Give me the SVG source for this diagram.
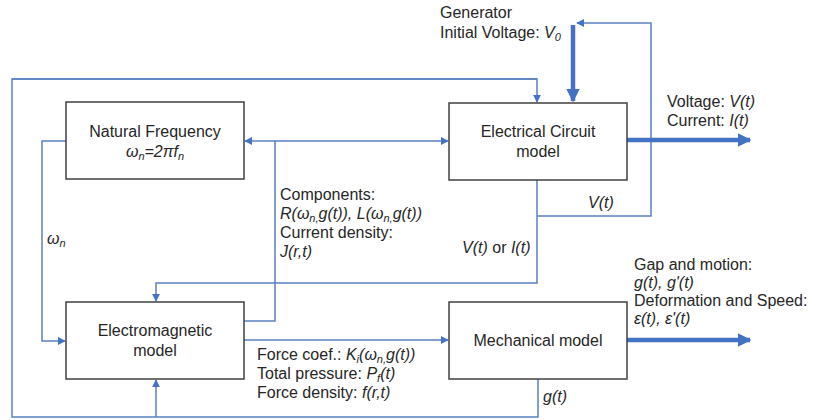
<svg xmlns="http://www.w3.org/2000/svg" width="813" height="420" viewBox="0 0 813 420">
<defs>
<style>
text{font-family:"Liberation Sans",Arial,sans-serif;font-size:16px;fill:#262626}
.c{text-anchor:middle}
.i{font-style:italic}
.s{font-size:11px}
.box{fill:#fff;stroke:#404040;stroke-width:1.5}
.ln{fill:none;stroke:#5B80C2;stroke-width:1.5}
.th{fill:none;stroke:#4472C4;stroke-width:4.5}
</style>
<marker id="a" viewBox="0 0 10 10" refX="9" refY="5" markerWidth="8" markerHeight="8" markerUnits="userSpaceOnUse" orient="auto"><path d="M0,0L10,5L0,10z" fill="#4472C4"/></marker>
<marker id="b" viewBox="0 0 10 10" refX="9" refY="5" markerWidth="3" markerHeight="3" orient="auto"><path d="M0,0L10,5L0,10z" fill="#4472C4"/></marker>
</defs>
<g id="connectors">
<path class="ln" d="M537,79H12V417H538V379" />
<path class="ln" d="M12,79H537V102" marker-end="url(#a)"/>
<path class="ln" d="M156,417V380" marker-end="url(#a)"/>
<path class="ln" d="M66,141H42V341H65" marker-end="url(#a)"/>
<path class="ln" d="M244,321H275V141H448" marker-end="url(#a)"/>
<path class="ln" d="M275,141H245" marker-end="url(#a)"/>
<path class="ln" d="M537,180V283H156V301" marker-end="url(#a)"/>
<path class="ln" d="M537,216H651V23H577" marker-end="url(#a)"/>
<path class="ln" d="M244,340H448" marker-end="url(#a)"/>
<path class="th" d="M573,25V101" marker-end="url(#b)"/>
<path class="th" d="M627,140H750" marker-end="url(#b)"/>
<path class="th" d="M627,340H750" marker-end="url(#b)"/>
</g>
<g id="natural-frequency">
<rect class="box" x="66" y="102" width="178" height="77"/>
<text class="c" x="155" y="137">Natural Frequency</text>
<text class="c i" x="155" y="157">ω<tspan class="s" dy="3">n</tspan><tspan dy="-3">=2π</tspan>f<tspan class="s" dy="3">n</tspan></text>
</g>
<g id="electrical-circuit">
<rect class="box" x="449" y="103" width="178" height="77"/>
<text class="c" x="538" y="137">Electrical Circuit</text>
<text class="c" x="538" y="157">model</text>
</g>
<g id="electromagnetic">
<rect class="box" x="66" y="302" width="178" height="77"/>
<text class="c" x="155" y="336">Electromagnetic</text>
<text class="c" x="155" y="356">model</text>
</g>
<g id="mechanical">
<rect class="box" x="449" y="302" width="178" height="77"/>
<text class="c" x="538" y="346">Mechanical model</text>
</g>
<g id="labels">
<text x="440" y="18">Generator</text>
<text x="440" y="38">Initial Voltage: <tspan class="i">V</tspan><tspan class="i s" dy="3">0</tspan></text>
<text x="667" y="107">Voltage: <tspan class="i">V(t)</tspan></text>
<text x="667" y="126">Current: <tspan class="i">I(t)</tspan></text>
<text x="588" y="208" class="i">V(t)</text>
<text x="462" y="253"><tspan class="i">V(t)</tspan> or <tspan class="i">I(t)</tspan></text>
<text x="280" y="200">Components:</text>
<text x="280" y="219" class="i">R(ω<tspan class="s" dy="3">n,</tspan><tspan dy="-3">g(t)), L(ω</tspan><tspan class="s" dy="3">n,</tspan><tspan dy="-3">g(t))</tspan></text>
<text x="280" y="238">Current density:</text>
<text x="280" y="257" class="i">J(r,t)</text>
<text x="47" y="244" class="i">ω<tspan class="s" dy="3">n</tspan></text>
<text x="257" y="360">Force coef.: <tspan class="i">K</tspan><tspan class="i s" dy="3">i</tspan><tspan class="i" dy="-3">(ω</tspan><tspan class="i s" dy="3">n,</tspan><tspan class="i" dy="-3">g(t))</tspan></text>
<text x="257" y="379">Total pressure: <tspan class="i">P</tspan><tspan class="i s" dy="3">f</tspan><tspan class="i" dy="-3">(t)</tspan></text>
<text x="257" y="398">Force density: <tspan class="i">f(r,t)</tspan></text>
<text x="634" y="270">Gap and motion:</text>
<text x="634" y="288" class="i">g(t), g'(t)</text>
<text x="634" y="306">Deformation and Speed:</text>
<text x="634" y="324" class="i">ε(t), ε'(t)</text>
<text x="543" y="402" class="i">g(t)</text>
</g>
</svg>
